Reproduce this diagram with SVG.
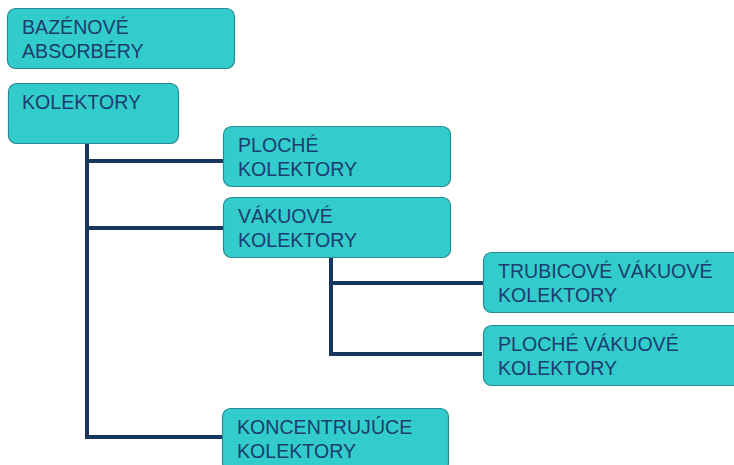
<svg xmlns="http://www.w3.org/2000/svg" width="734" height="465" viewBox="0 0 734 465">
<style>
.box{fill:#33CCCC;stroke:#2a8a92;stroke-width:1.2}
.t{font-family:"Liberation Sans",Arial,sans-serif;font-size:19.6px;fill:#1C3D6E}
.c{stroke:#17375E;stroke-width:4;fill:none}
</style>
<rect width="734" height="465" fill="#fff"/>
<g id="connectors">
<path class="c" d="M87 143V437"/>
<path class="c" d="M85 161H224"/>
<path class="c" d="M85 228H223"/>
<path class="c" d="M85 437H223"/>
<path class="c" d="M331 257V354"/>
<path class="c" d="M329 283H483"/>
<path class="c" d="M329 354H482"/>
</g>
<g id="bazenove">
<rect class="box" x="7.5" y="8.5" width="227" height="60" rx="8"/>
<text class="t" x="22" y="34">BAZÉNOVÉ</text>
<text class="t" x="22" y="58">ABSORBÉRY</text>
</g>
<g id="kolektory">
<rect class="box" x="8.5" y="83.5" width="170" height="60" rx="8"/>
<text class="t" x="22" y="109">KOLEKTORY</text>
</g>
<g id="ploche">
<rect class="box" x="223.5" y="126.5" width="227" height="60" rx="8"/>
<text class="t" x="238" y="152">PLOCHÉ</text>
<text class="t" x="238" y="176">KOLEKTORY</text>
</g>
<g id="vakuove">
<rect class="box" x="223.5" y="197.5" width="227" height="60" rx="8"/>
<text class="t" x="238" y="223">VÁKUOVÉ</text>
<text class="t" x="238" y="247">KOLEKTORY</text>
</g>
<g id="trubicove">
<rect class="box" x="483.5" y="252.5" width="260" height="60" rx="8"/>
<text class="t" x="498" y="278">TRUBICOVÉ VÁKUOVÉ</text>
<text class="t" x="498" y="302">KOLEKTORY</text>
</g>
<g id="plochevakuove">
<rect class="box" x="483.5" y="325.5" width="260" height="60" rx="8"/>
<text class="t" x="498" y="351">PLOCHÉ VÁKUOVÉ</text>
<text class="t" x="498" y="375">KOLEKTORY</text>
</g>
<g id="koncentrujuce">
<rect class="box" x="222.5" y="408.5" width="226" height="62" rx="8"/>
<text class="t" x="237" y="434">KONCENTRUJÚCE</text>
<text class="t" x="237" y="458">KOLEKTORY</text>
</g>
</svg>
